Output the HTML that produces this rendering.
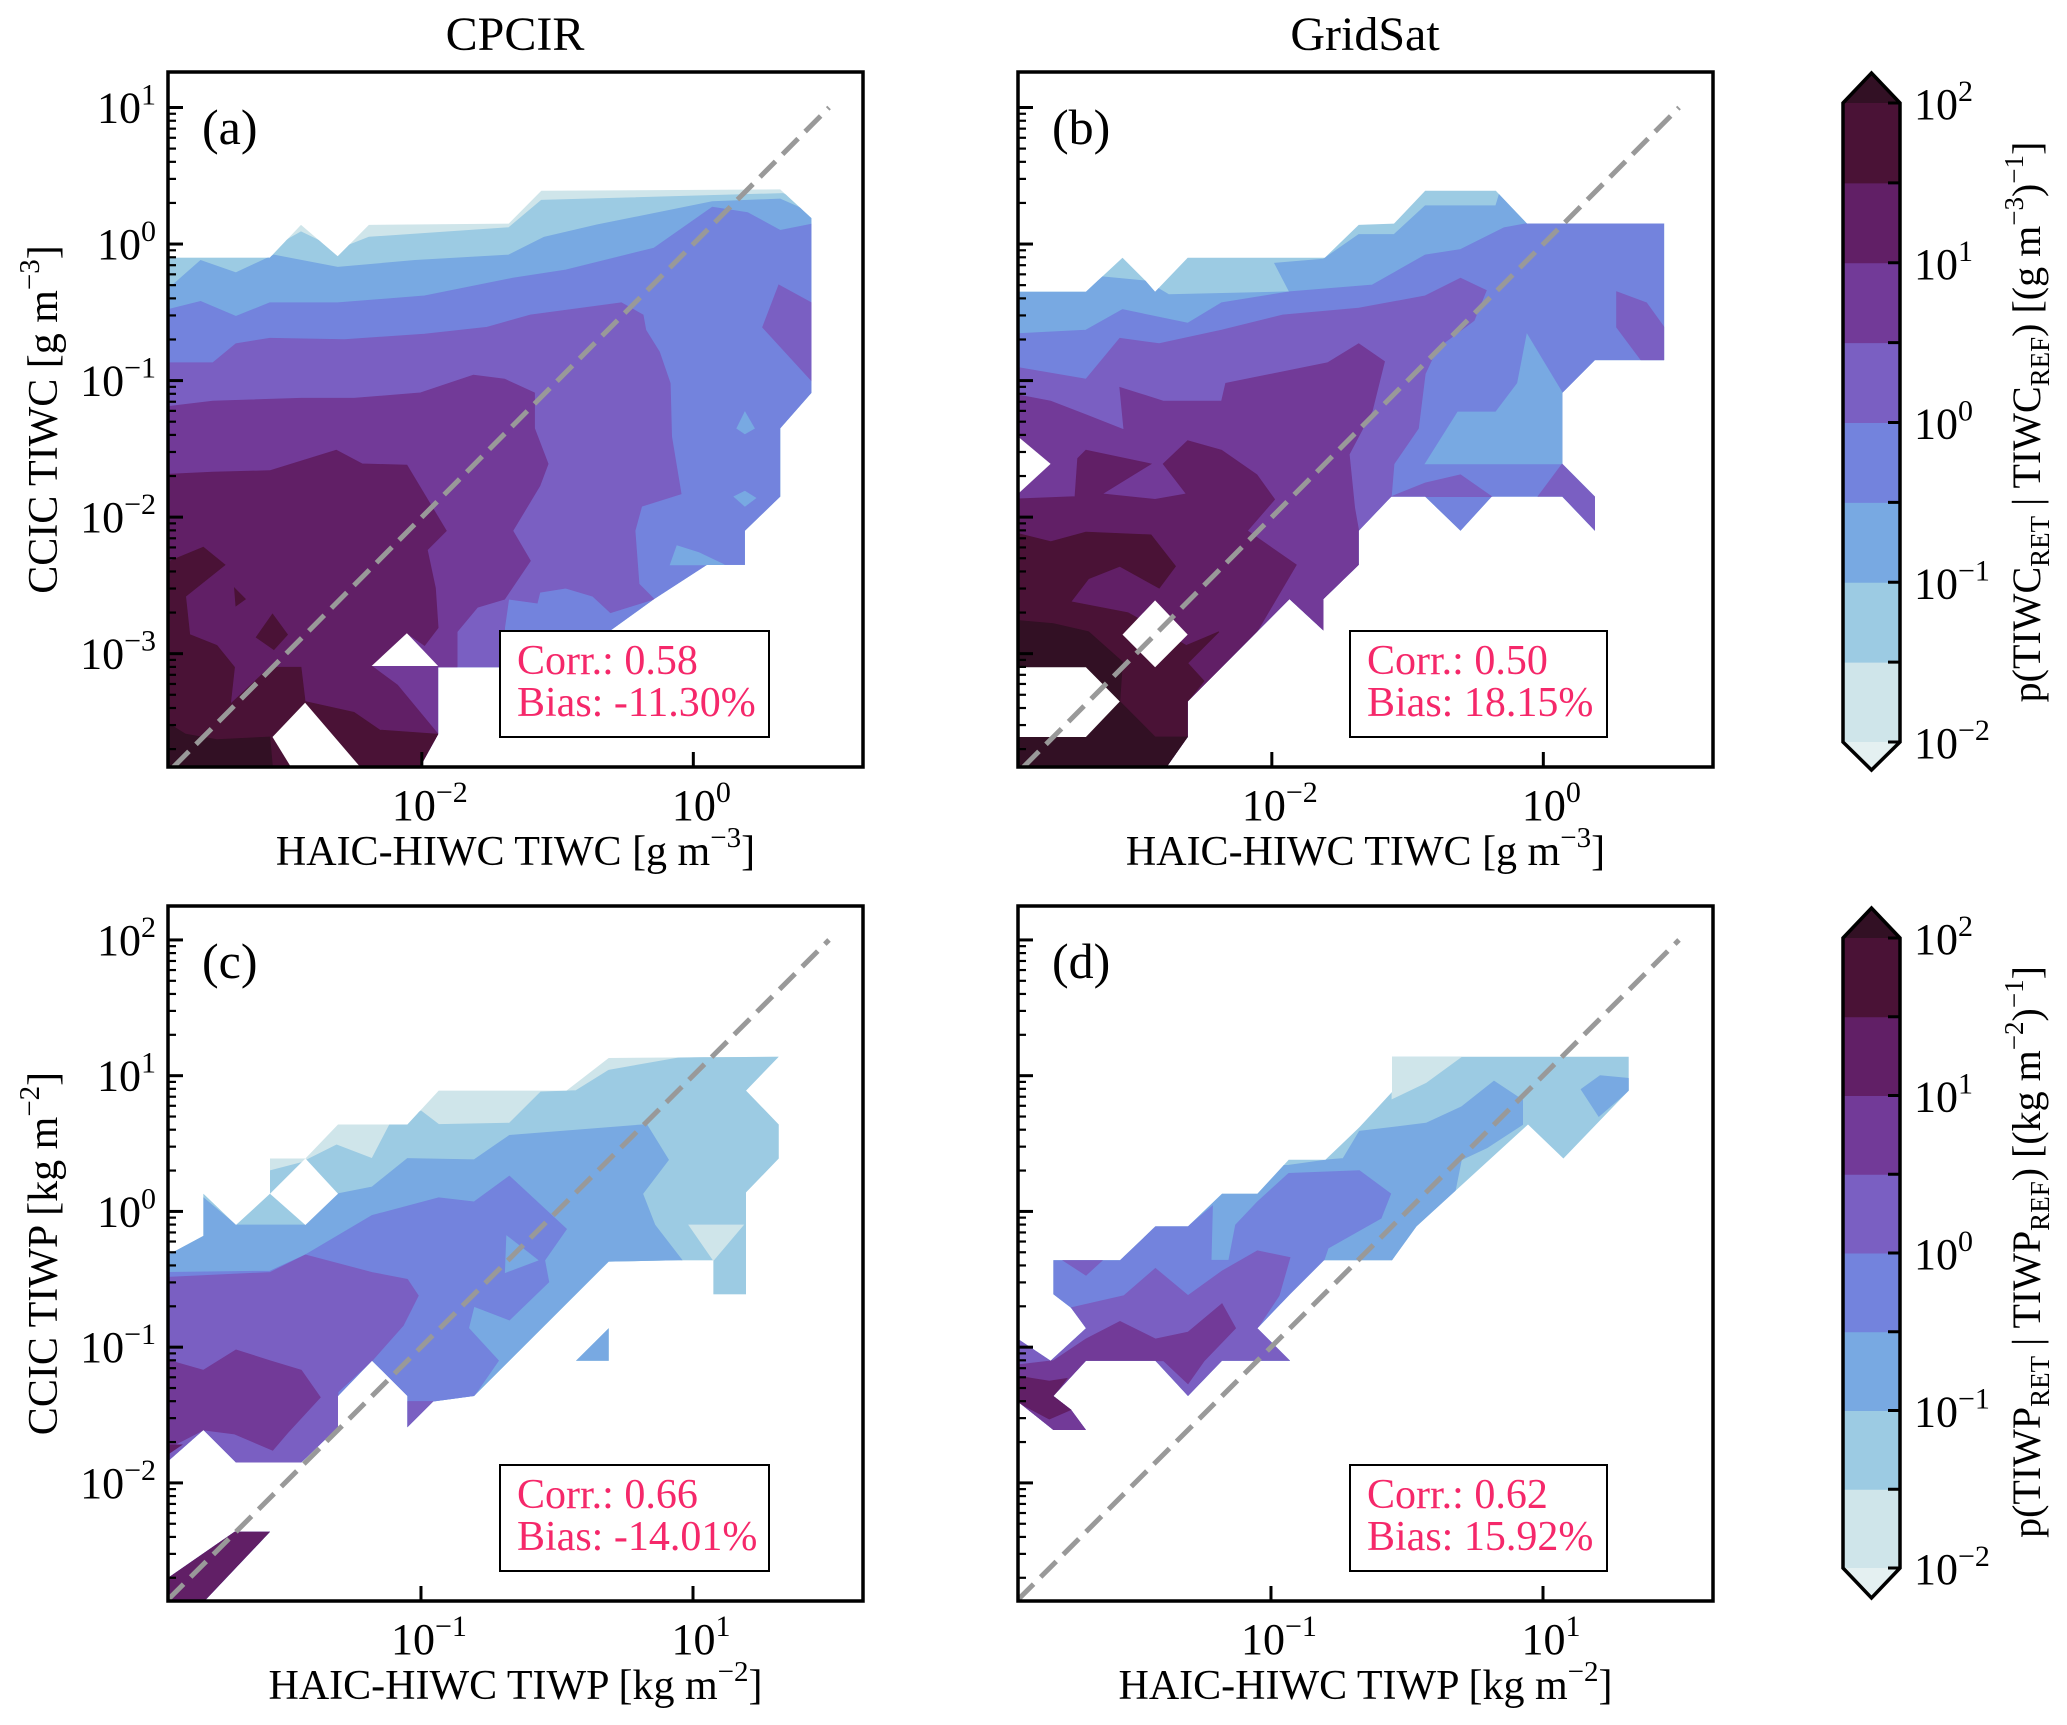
<!DOCTYPE html>
<html><head><meta charset="utf-8"><style>
html,body{margin:0;padding:0;background:#fff;}
svg{display:block;font-family:"Liberation Serif",serif;}
</style></head><body>
<svg id="fig" xmlns="http://www.w3.org/2000/svg" width="2067" height="1725" viewBox="0 0 2067 1725"></svg>
<script>
const NS='http://www.w3.org/2000/svg';
const svg=document.getElementById('fig');
const COLORS=['#cfe5ea','#9ccbe3','#78a9e2','#7383dd','#7a5fc2','#723a98','#611f66','#4a1236','#321024'];
const UNDER='#e4f0f1';
const CB_LEVELS=[-2,-1.5,-1,-0.5,0,0.5,1,1.5,2];
const CB_TICKS=[2,1,0,-1,-2];

// ---- panel (a) contour regions, log10 data coords [x,y,...]
const aOuter=[-3.87,-0.10,-3.12,-0.10,-2.89,0.14,-2.62,-0.09,-2.39,0.14,-1.36,0.15,-1.12,0.39,0.64,0.40,0.87,0.19,0.87,-1.09,0.64,-1.35,0.64,-1.85,0.38,-2.10,0.38,-2.35,0.10,-2.35,-0.29,-2.60,-0.61,-2.83,-1.39,-2.83,-1.39,-3.10,-1.88,-3.10,-1.88,-3.59,-2.08,-3.95,-3.95,-3.95];
const aL2=[-3.95,-0.04,-3.12,-0.04,-2.89,0.09,-2.62,-0.04,-2.39,0.05,-1.36,0.12,-1.12,0.32,0.66,0.37,0.89,0.28,1.34,0.28,1.34,-3.95,-3.95,-3.95];
const aL3=[-3.95,-0.40,-3.63,-0.12,-3.37,-0.21,-3.09,-0.08,-2.62,-0.17,-2.05,-0.12,-1.36,-0.08,-1.10,0.05,-0.71,0.14,0.14,0.31,0.64,0.33,0.89,0.22,1.34,0.22,1.34,-3.95,-3.95,-3.95];
const aL4=[-3.95,-0.50,-3.63,-0.42,-3.37,-0.53,-3.12,-0.43,-2.62,-0.43,-1.98,-0.38,-1.33,-0.25,-0.94,-0.19,-0.29,-0.03,0.14,0.27,0.40,0.23,0.64,0.10,0.89,0.15,1.34,0.15,1.34,-3.95,-3.95,-3.95];
const aSpot1=[0.38,-1.23,0.45,-1.35,0.38,-1.39,0.32,-1.35];
const aSpot2=[0.30,-1.85,0.38,-1.81,0.46,-1.86,0.38,-1.92];
const aSpot3=[-0.17,-2.35,-0.12,-2.21,0.04,-2.26,0.23,-2.35];
const aL5=[-3.95,-0.87,-3.54,-0.87,-3.37,-0.73,-3.12,-0.69,-2.57,-0.70,-1.98,-0.66,-1.52,-0.61,-1.20,-0.52,-0.53,-0.43,-0.37,-0.52,-0.35,-0.63,-0.25,-0.79,-0.17,-1.02,-0.16,-1.41,-0.09,-1.83,-0.38,-1.92,-0.43,-2.10,-0.40,-2.49,-0.29,-2.60,-0.61,-2.70,-0.74,-2.58,-0.94,-2.52,-1.13,-2.55,-1.15,-2.63,-1.36,-2.60,-1.39,-2.81,-1.39,-3.95,-3.95,-3.95];
const aIsland=[0.63,-0.30,0.87,-0.43,0.87,-1.00,0.51,-0.61];
const aL6=[-3.95,-1.20,-3.54,-1.15,-2.89,-1.13,-2.50,-1.13,-2.01,-1.09,-1.62,-0.96,-1.39,-0.99,-1.17,-1.09,-1.17,-1.35,-1.07,-1.61,-1.13,-1.77,-1.33,-2.10,-1.20,-2.32,-1.39,-2.60,-1.59,-2.66,-1.74,-2.84,-1.74,-3.10,-1.88,-3.10,-1.88,-3.95,-3.95,-3.95];
const aL7=[-3.95,-1.69,-3.54,-1.67,-3.12,-1.66,-2.63,-1.51,-2.44,-1.61,-2.11,-1.62,-1.82,-2.10,-1.96,-2.24,-1.90,-2.52,-1.88,-2.81,-1.98,-2.94,-2.11,-2.85,-2.37,-3.09,-2.18,-3.23,-1.88,-3.59,-2.05,-3.95,-3.95,-3.95];
const aL8=[-3.95,-2.36,-3.61,-2.22,-3.45,-2.35,-3.74,-2.58,-3.71,-2.86,-3.51,-2.94,-3.38,-3.10,-3.41,-3.37,-3.12,-3.10,-2.89,-3.10,-2.86,-3.35,-2.50,-3.43,-2.31,-3.56,-1.88,-3.59,-2.05,-3.95,-3.95,-3.95];
const aDot1=[-3.38,-2.52,-3.30,-2.60,-3.37,-2.65];
const aDot2=[-3.22,-2.88,-3.10,-2.71,-2.99,-2.86,-3.09,-2.97];
const aL9=[-3.95,-3.46,-3.74,-3.59,-3.51,-3.63,-3.12,-3.61,-3.09,-3.95,-3.95,-3.95];
const aHole1=[-2.37,-3.09,-2.11,-2.85,-1.88,-3.09];
const aHole2=[-3.10,-3.61,-2.86,-3.36,-2.35,-3.95,-2.89,-3.95];

// ---- panel (b)
const bOuter=[-3.95,-0.35,-3.37,-0.35,-3.10,-0.10,-2.93,-0.27,-2.86,-0.35,-2.62,-0.10,-1.61,-0.10,-1.36,0.14,-1.10,0.15,-0.87,0.39,-0.35,0.39,-0.12,0.15,0.89,0.15,0.89,-0.85,0.38,-0.85,0.14,-1.09,0.14,-1.61,0.38,-1.85,0.38,-2.10,0.14,-1.85,-0.38,-1.85,-0.61,-2.10,-0.87,-1.85,-1.12,-1.85,-1.36,-2.10,-1.36,-2.35,-1.62,-2.60,-1.62,-2.83,-1.87,-2.60,-2.62,-3.35,-2.62,-3.61,-2.86,-3.95,-3.95,-3.95];
const bL3=[-3.95,-0.34,-3.37,-0.34,-3.25,-0.24,-2.93,-0.27,-2.76,-0.37,-1.87,-0.35,-1.98,-0.14,-1.62,-0.11,-1.36,0.07,-1.10,0.07,-0.87,0.28,-0.35,0.28,-0.32,0.38,-0.12,0.15,1.34,0.15,1.34,-3.95,-3.95,-3.95];
const bL4=[-3.95,-0.66,-3.37,-0.63,-3.10,-0.48,-2.62,-0.58,-2.37,-0.43,-1.87,-0.35,-1.26,-0.30,-0.87,-0.08,-0.61,-0.04,-0.29,0.12,-0.12,0.15,1.34,0.15,1.34,-3.95,-3.95,-3.95];
const bIsland=[-0.12,-0.66,0.14,-1.09,0.14,-1.61,-0.87,-1.61,-0.63,-1.23,-0.35,-1.23,-0.19,-1.02];
const bL5=[-3.95,-0.89,-3.37,-0.99,-3.12,-0.69,-2.83,-0.73,-2.37,-0.63,-1.92,-0.52,-1.36,-0.47,-0.87,-0.38,-0.61,-0.25,-0.42,-0.34,-0.51,-0.56,-0.78,-0.76,-0.87,-0.95,-0.92,-1.35,-1.10,-1.61,-1.12,-1.85,-1.36,-2.10,-1.36,-3.95,-3.95,-3.95];
const bBand1=[-1.12,-1.85,-0.87,-1.75,-0.61,-1.69,-0.38,-1.85];
const bBand2=[-0.04,-1.85,0.14,-1.61,0.38,-1.85,0.38,-2.10];
const bBand3=[0.54,-0.35,0.76,-0.43,0.89,-0.61,0.89,-0.85,0.72,-0.85,0.54,-0.61];
const bL6=[-3.95,-1.09,-3.63,-1.15,-3.37,-1.25,-3.09,-1.36,-3.12,-1.05,-2.80,-1.15,-2.37,-1.15,-2.34,-1.02,-1.59,-0.87,-1.36,-0.73,-1.17,-0.86,-1.26,-1.22,-1.43,-1.54,-1.39,-1.93,-1.36,-2.10,-1.36,-2.35,-1.62,-2.60,-1.62,-2.83,-1.87,-2.60,-2.62,-3.35,-2.62,-3.95,-3.95,-3.95];
const bL7=[-3.95,-1.87,-3.45,-1.85,-3.43,-1.57,-3.37,-1.51,-2.89,-1.61,-3.25,-1.83,-2.86,-1.87,-2.63,-1.83,-2.80,-1.61,-2.62,-1.44,-2.37,-1.51,-2.11,-1.69,-1.98,-1.87,-2.18,-2.10,-1.82,-2.35,-2.11,-2.84,-2.62,-3.35,-2.62,-3.95,-3.95,-3.95];
const bL8=[-3.95,-2.10,-3.63,-2.18,-3.37,-2.11,-2.89,-2.13,-2.71,-2.36,-2.83,-2.52,-3.12,-2.36,-3.35,-2.45,-3.48,-2.62,-3.06,-2.70,-2.63,-2.94,-2.39,-2.84,-2.62,-3.07,-2.50,-3.20,-2.62,-3.35,-2.62,-3.95,-3.95,-3.95];
const bL9=[-3.95,-2.75,-3.61,-2.78,-3.35,-2.84,-3.10,-3.06,-3.12,-3.35,-2.86,-3.61,-2.62,-3.61,-2.86,-3.95,-3.95,-3.95];
const bHole1=[-3.95,-1.41,-3.87,-1.41,-3.63,-1.61,-3.87,-1.83,-3.95,-1.83];
const bHole2=[-3.95,-3.10,-3.37,-3.10,-3.12,-3.35,-3.37,-3.61,-3.95,-3.61];
const bHole3=[-3.10,-2.86,-2.86,-2.61,-2.62,-2.86,-2.86,-3.10];

// ---- panel (c)
const cOuter=[-2.86,-0.32,-2.60,-0.18,-2.60,0.13,-2.36,-0.10,-2.11,0.13,-2.11,0.39,-1.85,0.39,-1.61,0.64,-1.10,0.64,-0.87,0.89,0.07,0.89,0.38,1.13,1.63,1.14,1.39,0.89,1.63,0.64,1.63,0.39,1.39,0.14,1.39,-0.61,1.15,-0.61,1.15,-0.36,0.89,-0.36,0.38,-0.37,-0.61,-1.36,-0.91,-1.40,-1.10,-1.59,-1.10,-1.36,-1.36,-1.10,-1.61,-1.36,-1.61,-1.59,-1.88,-1.85,-2.36,-1.85,-2.60,-1.61,-2.86,-1.84];
const cPatch=[0.14,-1.10,0.38,-0.86,0.38,-1.10];
const cStrip=[-2.86,-2.70,-2.37,-2.36,-2.11,-2.36,-2.62,-2.90,-2.90,-2.90];
const cL2=[-2.95,0.30,-2.11,0.30,-1.88,0.36,-1.62,0.49,-1.36,0.39,-1.23,0.64,-1.00,0.74,-0.87,0.64,-0.35,0.65,-0.12,0.88,0.14,0.89,0.38,1.04,0.89,1.13,1.65,1.16,2.35,1.16,2.35,-3.0,-2.95,-3.0];
const cLight=[0.97,-0.10,1.37,-0.10,1.15,-0.36];
const cL3=[-2.95,-0.16,-2.60,0.10,-2.36,-0.10,-1.85,-0.10,-1.61,0.13,-1.36,0.18,-1.10,0.39,-0.61,0.38,-0.35,0.56,0.66,0.64,0.82,0.38,0.63,0.13,0.72,-0.10,0.92,-0.36,0.92,-3.0,-2.95,-3.0];
const cL4=[-2.95,-0.45,-2.11,-0.44,-1.85,-0.32,-1.36,-0.03,-0.87,0.10,-0.61,0.07,-0.35,0.26,0.07,-0.13,-0.09,-0.36,-0.06,-0.52,-0.35,-0.80,-0.61,-0.70,-0.65,-0.86,-0.43,-1.10,-0.61,-1.36,-0.61,-3.0,-2.95,-3.0];
const cNotch=[-0.37,-0.18,-0.14,-0.36,-0.38,-0.45];
const cL5=[-2.95,-0.49,-2.11,-0.45,-1.85,-0.32,-1.36,-0.45,-1.10,-0.50,-1.02,-0.62,-1.13,-0.84,-1.36,-1.10,-1.61,-1.33,-1.61,-3.0,-2.95,-3.0];
const cTri=[-1.10,-1.40,-0.91,-1.40,-1.10,-1.59];
const cL6=[-2.95,-1.07,-2.60,-1.17,-2.36,-1.02,-2.11,-1.10,-1.88,-1.17,-1.74,-1.37,-1.98,-1.63,-2.09,-1.76,-2.37,-1.64,-2.60,-1.61,-2.95,-1.79];
const cSliver=[-2.95,-1.72,-2.76,-1.72,-2.95,-1.85];
const cHole=[-2.11,0.13,-1.85,0.39,-1.61,0.13,-1.85,-0.10];

// ---- panel (d)
const dOuter=[-2.60,-0.36,-2.11,-0.36,-1.85,-0.11,-1.61,-0.11,-1.36,0.13,-1.10,0.13,-0.87,0.38,-0.60,0.38,-0.35,0.62,-0.11,0.88,-0.11,1.14,1.63,1.14,1.63,0.89,1.15,0.39,0.89,0.64,0.07,-0.11,-0.11,-0.36,-0.61,-0.36,-0.86,-0.61,-1.10,-0.86,-0.86,-1.10,-1.36,-1.10,-1.61,-1.36,-1.85,-1.10,-2.36,-1.10,-2.60,-1.36,-2.47,-1.46,-2.36,-1.61,-2.60,-1.61,-2.95,-1.33,-2.95,-0.88,-2.62,-1.10,-2.36,-0.86,-2.47,-0.71,-2.60,-0.61];
const dL1=[-0.11,1.14,0.40,1.14,0.14,0.95,-0.11,0.83];
const dL3=[-2.95,0.30,-0.87,0.34,-0.58,0.38,-0.47,0.39,-0.35,0.59,0.14,0.65,0.40,0.77,0.64,0.96,0.85,0.82,0.85,0.64,0.59,0.47,0.40,0.38,0.35,0.13,0.10,-0.13,-0.11,-0.36,-0.11,-3.0,-2.95,-3.0];
const dPatch=[1.28,0.90,1.42,1.00,1.63,0.98,1.63,0.89,1.41,0.70];
const dL4=[-2.95,-0.32,-2.11,-0.32,-1.85,-0.11,-1.61,-0.11,-1.43,0.04,-1.44,-0.36,-1.31,-0.36,-1.26,-0.10,-1.10,0.07,-0.87,0.28,-0.35,0.30,-0.12,0.13,-0.19,-0.05,-0.58,-0.27,-0.61,-0.36,-0.61,-3.0,-2.95,-3.0];
const dL5=[-2.95,-0.84,-2.47,-0.71,-2.08,-0.62,-1.85,-0.42,-1.61,-0.62,-1.36,-0.44,-1.10,-0.29,-0.86,-0.34,-0.94,-0.62,-1.10,-0.86,-0.86,-1.10,-0.86,-3.0,-2.95,-3.0];
const dTri=[-2.53,-0.36,-2.24,-0.36,-2.36,-0.47];
const dL6=[-2.95,-1.14,-2.60,-1.10,-2.36,-0.94,-2.11,-0.81,-1.85,-0.94,-1.61,-0.89,-1.36,-0.68,-1.26,-0.86,-1.49,-1.10,-1.61,-1.27,-1.79,-1.10,-2.36,-1.10,-2.60,-1.36,-2.47,-1.46,-2.36,-1.61,-2.60,-1.61,-2.95,-1.43];
const dL7=[-2.95,-1.20,-2.63,-1.25,-2.50,-1.23,-2.60,-1.36,-2.47,-1.46,-2.63,-1.53,-2.95,-1.36];

// ---- stats and tick labels
const corrVals=['0.58','0.50','0.66','0.62'];
const biasVals=['-11.30%','18.15%','-14.01%','15.92%'];
const topYTicks=[1,0,-1,-2,-3];
const topXTicks=[-2,0];
const botYTicks=[2,1,0,-1,-2];
const botXTicks=[-1,1];

const TOPR={xmin:-3.87,xmax:1.25,ymin:-3.83,ymax:1.26};
const BOTR={xmin:-2.86,xmax:2.25,ymin:-2.87,ymax:2.25};

function mk(tag,parent){const e=document.createElementNS(NS,tag);(parent||svg).appendChild(e);return e;}
function sx(p,v){return p.x+(v-p.r.xmin)/(p.r.xmax-p.r.xmin)*p.w;}
function sy(p,v){return p.y+p.h-(v-p.r.ymin)/(p.r.ymax-p.r.ymin)*p.h;}
function pts(p,arr){let s=[];for(let i=0;i<arr.length;i+=2)s.push(sx(p,arr[i]).toFixed(1)+','+sy(p,arr[i+1]).toFixed(1));return s.join(' ');}
function supText(t,base,exp,supSize){
  t.appendChild(document.createTextNode(base));
  const s=document.createElementNS(NS,'tspan');s.setAttribute('dy',-18);s.setAttribute('font-size',supSize);s.textContent=exp;t.appendChild(s);
}
function fmtExp(v){return (v<0?'\u2212':'')+Math.abs(v);}

const panels=[
 {id:'a',x:168,y:72,w:695,h:695,r:TOPR,diagMax:1,outer:[aOuter],base:0,
  layers:[[1,aL2],[2,aL3],[3,aL4],[2,aSpot1],[2,aSpot2],[2,aSpot3],[4,aL5],[4,aIsland],[5,aL6],[6,aL7],[7,aL8],[7,aDot1],[7,aDot2],[8,aL9]],
  holes:[aHole1,aHole2],yt:topYTicks,xt:topXTicks,ylab:true,bw:269},
 {id:'b',x:1018,y:72,w:695,h:695,r:TOPR,diagMax:1,outer:[bOuter],base:1,
  layers:[[2,bL3],[3,bL4],[2,bIsland],[4,bL5],[4,bBand1],[4,bBand2],[4,bBand3],[5,bL6],[6,bL7],[7,bL8],[8,bL9]],
  holes:[bHole1,bHole2,bHole3],yt:topYTicks,xt:topXTicks,ylab:false,bw:257},
 {id:'c',x:168,y:906,w:695,h:695,r:BOTR,diagMax:2,outer:[cOuter,cPatch,cStrip],base:0,
  layers:[[1,cL2],[0,cLight],[2,cL3],[3,cL4],[2,cNotch],[4,cL5],[4,cTri],[5,cL6],[6,cSliver],[6,cStrip]],
  holes:[cHole],yt:botYTicks,xt:botXTicks,ylab:true,bw:269},
 {id:'d',x:1018,y:906,w:695,h:695,r:BOTR,diagMax:2,outer:[dOuter],base:1,
  layers:[[0,dL1],[2,dL3],[2,dPatch],[3,dL4],[4,dL5],[4,dTri],[5,dL6],[6,dL7]],
  holes:[],yt:botYTicks,xt:botXTicks,ylab:false,bw:257}
];

const defs=mk('defs');
panels.forEach((p,pi)=>{
  const g=mk('g');
  
  
  const cp=mk('clipPath',defs);cp.setAttribute('id','clip-'+p.id);
  p.outer.forEach(o=>{const pg=mk('polygon',cp);pg.setAttribute('points',pts(p,o));});
  const cr=mk('clipPath',defs);cr.setAttribute('id','rect-'+p.id);
  const rr=mk('rect',cr);rr.setAttribute('x',p.x);rr.setAttribute('y',p.y);rr.setAttribute('width',p.w);rr.setAttribute('height',p.h);
  const outerG=mk('g',g);outerG.setAttribute('clip-path','url(#rect-'+p.id+')');
  const cg=mk('g',outerG);cg.setAttribute('clip-path','url(#clip-'+p.id+')');
  
  
  const base=mk('rect',cg);base.setAttribute('x',p.x-5);base.setAttribute('y',p.y-5);base.setAttribute('width',p.w+10);base.setAttribute('height',p.h+10);base.setAttribute('fill',COLORS[p.base]);
  p.layers.forEach(([lv,arr])=>{
    const pg=mk('polygon',cg);
    
    
    pg.setAttribute('points',pts(p,arr));pg.setAttribute('fill',COLORS[lv]);
    pg.setAttribute('stroke',COLORS[lv]);pg.setAttribute('stroke-width','0.8');
  });
  p.holes.forEach(h=>{
    const pg=mk('polygon',outerG);
    
    
    pg.setAttribute('points',pts(p,h));pg.setAttribute('fill','#fff');
  });
  const lo=Math.max(p.r.xmin,p.r.ymin);
  const dl=mk('line',outerG);
  
  
  dl.setAttribute('x1',sx(p,lo));dl.setAttribute('y1',sy(p,lo));dl.setAttribute('x2',sx(p,p.diagMax));dl.setAttribute('y2',sy(p,p.diagMax));
  dl.setAttribute('stroke','#999');dl.setAttribute('stroke-width','5');dl.setAttribute('stroke-dasharray','22,10');
  const bx=mk('rect',g);
  
  
  bx.setAttribute('x',p.x+332);bx.setAttribute('y',p.y+559);bx.setAttribute('width',p.bw);bx.setAttribute('height',106);
  bx.setAttribute('fill','#fff');bx.setAttribute('stroke','#000');bx.setAttribute('stroke-width','2');
  const t1=mk('text',g);
  
  
  t1.setAttribute('x',p.x+349);t1.setAttribute('y',p.y+602);t1.setAttribute('font-size','42');t1.setAttribute('fill','#f5286a');
  t1.textContent='Corr.: '+corrVals[pi];
  const t2=mk('text',g);
  
  
  t2.setAttribute('x',p.x+349);t2.setAttribute('y',p.y+644);t2.setAttribute('font-size','42');t2.setAttribute('fill','#f5286a');
  t2.textContent='Bias: '+biasVals[pi];
  const pl=mk('text',g);
  
  
  pl.setAttribute('x',p.x+34);pl.setAttribute('y',p.y+72);pl.setAttribute('font-size','50');
  pl.textContent='('+p.id+')';
  const sp=mk('rect',g);
  
  
  sp.setAttribute('x',p.x);sp.setAttribute('y',p.y);sp.setAttribute('width',p.w);sp.setAttribute('height',p.h);
  sp.setAttribute('fill','none');sp.setAttribute('stroke','#000');sp.setAttribute('stroke-width','3.5');
  for(let d=Math.floor(p.r.ymin);d<=Math.ceil(p.r.ymax);d++){
    for(let k=1;k<=9;k++){
      const v=d+Math.log10(k);
      if(v<p.r.ymin||v>p.r.ymax)continue;
      const yy=sy(p,v);
      const tk=mk('line',g);
      
      
      tk.setAttribute('x1',p.x);tk.setAttribute('x2',p.x+(k===1?15:8));tk.setAttribute('y1',yy);tk.setAttribute('y2',yy);
      tk.setAttribute('stroke','#000');tk.setAttribute('stroke-width',k===1?3:2.2);
    }
  }
  if(p.ylab){
    p.yt.forEach(v=>{
      const t=mk('text',g);
      
      
      t.setAttribute('x',p.x-12);t.setAttribute('y',sy(p,v)+15);t.setAttribute('font-size','44');t.setAttribute('text-anchor','end');
      supText(t,'10',fmtExp(v),'30');
    });
  }
  p.xt.forEach(v=>{
    const xx=sx(p,v);
    const tk=mk('line',g);
    
    
    tk.setAttribute('x1',xx);tk.setAttribute('x2',xx);tk.setAttribute('y1',p.y+p.h);tk.setAttribute('y2',p.y+p.h-15);
    tk.setAttribute('stroke','#000');tk.setAttribute('stroke-width','3');
    const t=mk('text',g);
    
    
    t.setAttribute('x',xx+8);t.setAttribute('y',p.y+p.h+53);t.setAttribute('font-size','44');t.setAttribute('text-anchor','middle');
    supText(t,'10',fmtExp(v),'30');
  });
  const xt=mk('text',g);
  
  
  xt.setAttribute('x',p.x+p.w/2);xt.setAttribute('y',p.y+p.h+98);xt.setAttribute('font-size','42');xt.setAttribute('text-anchor','middle');
  supText(xt,p.r===TOPR?'HAIC-HIWC TIWC [g m':'HAIC-HIWC TIWP [kg m',p.r===TOPR?'\u22123':'\u22122','29');
  const cl=document.createElementNS(NS,'tspan');cl.setAttribute('dy',18);cl.textContent=']';xt.appendChild(cl);
  if(p.ylab){
    const yt=mk('text',g);
    
    
    const cx=57,cy=p.y+p.h/2;
    yt.setAttribute('transform','translate('+cx+','+cy+') rotate(-90)');
    yt.setAttribute('font-size','42');yt.setAttribute('text-anchor','middle');
    supText(yt,p.r===TOPR?'CCIC TIWC [g m':'CCIC TIWP [kg m',p.r===TOPR?'\u22123':'\u22122','29');
    const c2=document.createElementNS(NS,'tspan');c2.setAttribute('dy',18);c2.textContent=']';yt.appendChild(c2);
  }
});

[['CPCIR',515],['GridSat',1365]].forEach(([s,x])=>{
  const t=mk('text');
  
  
  t.setAttribute('x',x);t.setAttribute('y',50);t.setAttribute('font-size','48');t.setAttribute('text-anchor','middle');
  t.textContent=s;
});

function colorbar(top,bot,tipTop,tipBot,qty,unit,cy){
  const g=mk('g');
  
  
  const x0=1843,x1=1900,h=bot-top,n=CB_LEVELS.length-1;
  const yOf=v=>top+(CB_LEVELS[n]-v)/(CB_LEVELS[n]-CB_LEVELS[0])*h;
  for(let i=0;i<n;i++){
    const r=mk('rect',g);
    
    
    const ya=yOf(CB_LEVELS[i+1]),yb=yOf(CB_LEVELS[i]);
    r.setAttribute('x',x0);r.setAttribute('y',ya);r.setAttribute('width',x1-x0);r.setAttribute('height',yb-ya+0.5);r.setAttribute('fill',COLORS[i]);
  }
  const up=mk('polygon',g);
  
  
  up.setAttribute('points',x0+','+top+' '+(x0+x1)/2+','+tipTop+' '+x1+','+top);up.setAttribute('fill','#321024');
  const dn=mk('polygon',g);
  
  
  dn.setAttribute('points',x0+','+bot+' '+(x0+x1)/2+','+tipBot+' '+x1+','+bot);dn.setAttribute('fill',UNDER);
  const ol=mk('polygon',g);
  
  
  ol.setAttribute('points',x0+','+top+' '+(x0+x1)/2+','+tipTop+' '+x1+','+top+' '+x1+','+bot+' '+(x0+x1)/2+','+tipBot+' '+x0+','+bot);
  ol.setAttribute('fill','none');ol.setAttribute('stroke','#000');ol.setAttribute('stroke-width','3.5');
  CB_LEVELS.forEach(v=>{
    const yy=yOf(v);
    const tk=mk('line',g);
    
    
    tk.setAttribute('x1',x1-12);tk.setAttribute('x2',x1);tk.setAttribute('y1',yy);tk.setAttribute('y2',yy);tk.setAttribute('stroke','#000');tk.setAttribute('stroke-width','3');
  });
  CB_TICKS.forEach(v=>{
    const t=mk('text',g);
    
    
    t.setAttribute('x',1914);t.setAttribute('y',yOf(v)+16);t.setAttribute('font-size','44');
    supText(t,'10',fmtExp(v),'30');
  });
  const t=mk('text',g);
  
  
  t.setAttribute('transform','translate(2040,'+cy+') rotate(-90)');
  t.setAttribute('font-size','40');t.setAttribute('text-anchor','middle');
  const parts=[['p('+qty,0,null],['RET',9,'27'],[' | '+qty,-9,null],['REF',9,'27'],[') [('+unit,-9,null],[qty==='TIWC'?'\u22123':'\u22122',-17,'27'],[')',17,null],['\u22121',-17,'27'],[']',17,null]];
  parts.forEach(([s,dy,fs])=>{const ts=document.createElementNS(NS,'tspan');if(dy)ts.setAttribute('dy',dy);if(fs)ts.setAttribute('font-size',fs);ts.textContent=s;t.appendChild(ts);});
}
colorbar(103,742,73,770,'TIWC','g m',422);
colorbar(938,1568,908,1598,'TIWP','kg m',1252);
</script>
</body></html>
